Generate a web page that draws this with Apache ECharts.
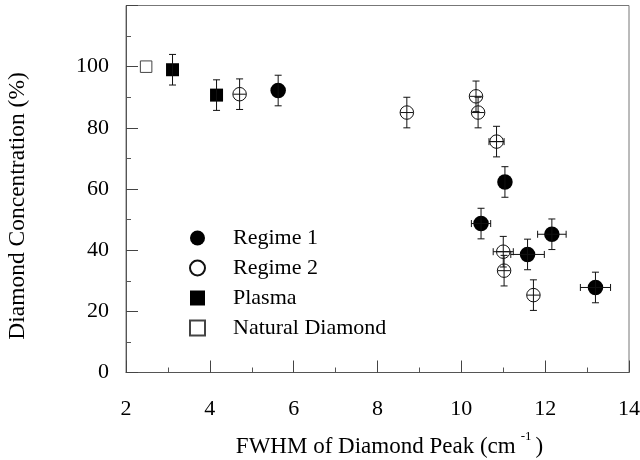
<!DOCTYPE html>
<html>
<head>
<meta charset="utf-8">
<script src="https://cdn.jsdelivr.net/npm/echarts@6/dist/echarts.min.js"></script>
<style>html,body{margin:0;padding:0;background:#fff}#c{width:640px;height:460px}</style>
</head>
<body>
<div id="c"></div>
<script>
// ---- data ----
const regime1X = [5.63, 11.04, 10.47, 12.16, 11.58, 13.20];
const regime1Y = [92.2, 62.3, 48.7, 45.2, 38.6, 27.8];
const regime1XErr = [0, 0, 0.23, 0.34, 0.40, 0.36];
const regime1YErr = [5, 5, 5, 5, 5, 5];

const regime2X = [4.71, 8.70, 10.35, 10.40, 10.84, 11.00, 11.02, 11.72];
const regime2Y = [91.0, 85.0, 90.3, 85.0, 75.5, 39.5, 33.3, 25.3];
const regime2XErr = [0, 0, 0, 0, 0.18, 0.24, 0, 0];
const regime2YErr = [5, 5, 5, 5, 5, 5, 5, 5];

const plasmaX = [3.11, 4.16];
const plasmaY = [99.0, 90.7];
const plasmaYErr = [5, 5];

const naturalX = [2.48];
const naturalY = [100];

const xTicks = [2, 4, 6, 8, 10, 12, 14];
const yTicks = [0, 20, 40, 60, 80, 100];

const FONT = "'Liberation Serif', 'Times New Roman', serif";

function pts(xs, ys) { return xs.map((x, i) => [x, ys[i]]); }
function errPts(xs, ys, xe, ye) { return xs.map((x, i) => [x, ys[i], xe ? xe[i] : 0, ye ? ye[i] : 0]); }

function makeErrRender(cross) {
  return function (params, api) {
    const x = api.value(0), y = api.value(1), xe = api.value(2), ye = api.value(3);
    const c = api.coord([x, y]);
    const cap = 3.5;
    const style = { stroke: '#111', lineWidth: 1, fill: null };
    const ch = [];
    if (ye > 0) {
      const t = api.coord([x, y + ye]), b = api.coord([x, y - ye]);
      ch.push({ type: 'line', shape: { x1: c[0], y1: t[1], x2: c[0], y2: b[1] }, style });
      ch.push({ type: 'line', shape: { x1: c[0] - cap, y1: t[1], x2: c[0] + cap, y2: t[1] }, style });
      ch.push({ type: 'line', shape: { x1: c[0] - cap, y1: b[1], x2: c[0] + cap, y2: b[1] }, style });
    }
    if (xe > 0) {
      const l = api.coord([x - xe, y]), r = api.coord([x + xe, y]);
      ch.push({ type: 'line', shape: { x1: l[0], y1: c[1], x2: r[0], y2: c[1] }, style });
      ch.push({ type: 'line', shape: { x1: l[0], y1: c[1] - cap, x2: l[0], y2: c[1] + cap }, style });
      ch.push({ type: 'line', shape: { x1: r[0], y1: c[1] - cap, x2: r[0], y2: c[1] + cap }, style });
    }
    if (cross) {
      ch.push({ type: 'line', shape: { x1: c[0] - 6.5, y1: c[1], x2: c[0] + 6.5, y2: c[1] }, style });
    }
    return { type: 'group', children: ch };
  };
}

const chart = echarts.init(document.getElementById('c'), null, { renderer: 'canvas' });
chart.setOption({
  animation: false,
  backgroundColor: '#fff',
  textStyle: { fontFamily: FONT, color: '#000' },
  grid: { left: 126, right: 11, top: 5.5, bottom: 87.5, outerBoundsMode: 'none', containLabel: false,
    show: true, borderColor: '#777', borderWidth: 1, backgroundColor: 'transparent' },
  legend: {
    orient: 'vertical', left: 184, top: 222, itemWidth: 15, itemHeight: 15, itemGap: 8,
    data: ['Regime 1', 'Regime 2', 'Plasma', 'Natural Diamond'],
    textStyle: { fontFamily: FONT, fontSize: 22, color: '#000', lineHeight: 22, padding: [0, 0, 0, 23] }
  },
  xAxis: {
    type: 'value', min: 2, max: 14, interval: 2,
    axisLine: { show: true, lineStyle: { color: '#555', width: 1 } },
    axisTick: { show: true, inside: true, length: 12, lineStyle: { color: '#444' } },
    minorTick: { show: true, splitNumber: 2, length: 5, lineStyle: { color: '#555' } },
    splitLine: { show: false },
    axisLabel: { fontFamily: FONT, fontSize: 22, color: '#000', margin: 26,
      formatter: v => xTicks.includes(v) ? String(v) : '' },
    name: 'FWHM of Diamond Peak (cm{s|-1}{p|)}',
    nameLocation: 'middle', nameGap: 58,
    nameTextStyle: { fontFamily: FONT, fontSize: 23, color: '#000', padding: [0, 0, 0, 24],
      rich: { s: { fontFamily: FONT, fontSize: 13, verticalAlign: 'top', padding: [0, 4, 20, 5] },
              p: { fontFamily: FONT, fontSize: 23 } } }
  },
  yAxis: {
    type: 'value', min: 0, max: 120, interval: 20,
    axisLine: { show: true, lineStyle: { color: '#555', width: 1 } },
    axisTick: { show: true, inside: true, length: 12, lineStyle: { color: '#444' } },
    minorTick: { show: true, splitNumber: 2, length: 5, lineStyle: { color: '#555' } },
    splitLine: { show: false },
    axisLabel: { fontFamily: FONT, fontSize: 22, color: '#000', margin: 17,
      formatter: v => yTicks.includes(v) ? String(v) : '' },
    name: 'Diamond Concentration (%)',
    nameLocation: 'middle', nameGap: 96,
    nameTextStyle: { fontFamily: FONT, fontSize: 23.5, color: '#000', padding: [0, 34, 0, 0] }
  },
  series: [
    { name: 'Regime 1', type: 'scatter', symbol: 'circle', symbolSize: 15.5, z: 3,
      itemStyle: { color: '#000', opacity: 1 }, data: pts(regime1X, regime1Y) },
    { name: 'Regime 2', type: 'scatter', symbol: 'circle', symbolSize: 13.5, z: 3,
      itemStyle: { color: '#fff', borderColor: '#111', borderWidth: 1, opacity: 1 }, data: pts(regime2X, regime2Y) },
    { name: 'Plasma', type: 'scatter', symbol: 'rect', symbolSize: 13, z: 3,
      itemStyle: { color: '#000', opacity: 1 }, data: pts(plasmaX, plasmaY) },
    { name: 'Natural Diamond', type: 'scatter', symbol: 'rect', symbolSize: 11.5, z: 3,
      itemStyle: { color: '#fff', borderColor: '#444', borderWidth: 1, opacity: 1 }, data: pts(naturalX, naturalY) },
    { type: 'custom', z: 4, renderItem: makeErrRender(false), encode: { x: 0, y: 1 },
      data: errPts(regime1X, regime1Y, regime1XErr, regime1YErr) },
    { type: 'custom', z: 4, renderItem: makeErrRender(true), encode: { x: 0, y: 1 },
      data: errPts(regime2X, regime2Y, regime2XErr, regime2YErr) },
    { type: 'custom', z: 4, renderItem: makeErrRender(false), encode: { x: 0, y: 1 },
      data: errPts(plasmaX, plasmaY, null, plasmaYErr) }
  ]
});
</script>
</body>
</html>
